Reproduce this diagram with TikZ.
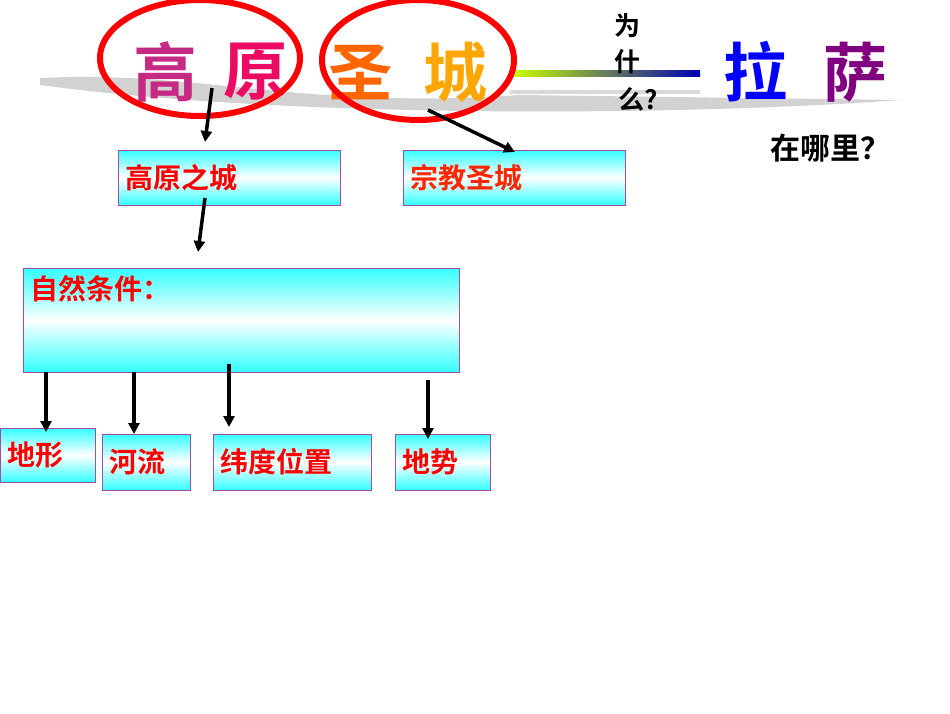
\documentclass[tikz,border=0pt]{standalone}
\usepackage{fontspec}
\newfontfamily\cjk{Noto Sans CJK SC}[BoldFont={Noto Sans CJK SC Bold}]
\usetikzlibrary{arrows.meta}
\begin{document}
\begin{tikzpicture}[x=1pt,y=-1pt,
  box/.style={draw=violet!70,line width=0.6pt,top color=cyan!80!white,bottom color=cyan!80!white,middle color=white,shading angle=0},
  lbl/.style={anchor=west,inner sep=0pt,xshift=8pt,font=\cjk\bfseries\fontsize{28}{30}\selectfont,text=red},
  arr/.style={line width=3.5pt,-{Triangle[length=11pt,width=11pt]}},
  big/.style={font=\cjk\bfseries\fontsize{64}{66}\selectfont},
  why/.style={font=\cjk\bfseries\fontsize{26}{28}\selectfont}]
\useasboundingbox (0,0) rectangle (950,713);
% shadow band
\fill[gray!35] (40,78) .. controls (200,70) and (300,110) .. (520,95) -- (900,100) .. controls (700,115) and (300,120) .. (40,85) -- cycle;
% gradient line
\shade[left color=yellow!80!green,right color=blue!70!black] (510,70) rectangle (700,76);
\fill[gray!30] (510,90) rectangle (700,94);
% title chars
\node[big,text=magenta!80!black] (t1) at (165,72) {高};
\node[big,text=magenta!60!red] (t2) at (255,72) {原};
\node[big,text=orange!80!red] (t3) at (360,72) {圣};
\node[big,text=orange!70!yellow] (t4) at (455,72) {城};
\node[big,text=blue] (t5) at (755,72) {拉};
\node[big,text=violet] (t6) at (855,72) {萨};
% circles
\draw[red,line width=6pt] (200,58) ellipse [x radius=100,y radius=58];
\draw[red,line width=6pt] (418,60) ellipse [x radius=96,y radius=60];
% why
\node[why] (w1) at (627,26) {为};
\node[why] (w2) at (627,62) {什};
\node[why] (w3) at (638,99) {么?};
\node[font=\cjk\bfseries\fontsize{30}{32}\selectfont] (where) at (830,148) {在哪里？};
% boxes
\node[box,minimum width=222pt,minimum height=55pt] (b1) at (229,177.5) {};
\node[lbl] at (b1.west) {高原之城};
\node[box,minimum width=222pt,minimum height=55pt] (b2) at (514,177.5) {};
\node[lbl,text=orange!30!red] at (b2.west) {宗教圣城};
\node[box,minimum width=436pt,minimum height=104pt] (b3) at (241,320) {};
\node[lbl,anchor=north west] at ([yshift=-8pt]b3.north west) {自然条件：};
\node[box,minimum width=95pt,minimum height=54pt] (c1) at (47.5,455) {};
\node[lbl] at (c1.west) {地形};
\node[box,minimum width=88pt,minimum height=56pt] (c2) at (146,462) {};
\node[lbl] at (c2.west) {河流};
\node[box,minimum width=158pt,minimum height=56pt] (c3) at (292,462) {};
\node[lbl] at (c3.west) {纬度位置};
\node[box,minimum width=95pt,minimum height=56pt] (c4) at (442.5,462) {};
\node[lbl] at (c4.west) {地势};
% arrows
\coordinate (a1) at (212,88); \coordinate (a1e) at (205,142);
\coordinate (a2) at (428,110); \coordinate (a2e) at (515,152);
\coordinate (a3) at (205,198); \coordinate (a3e) at (198,252);
\draw[arr] (a1) -- (a1e);
\draw[arr] (a2) -- (a2e);
\draw[arr] (a3) -- (a3e);
\draw[arr] (46,372) -- (46,432);
\draw[arr] (134,372) -- (134,434);
\draw[arr] (229,364) -- (229,427);
\draw[arr] (428,380) -- (428,439);
\end{tikzpicture}
\end{document}
